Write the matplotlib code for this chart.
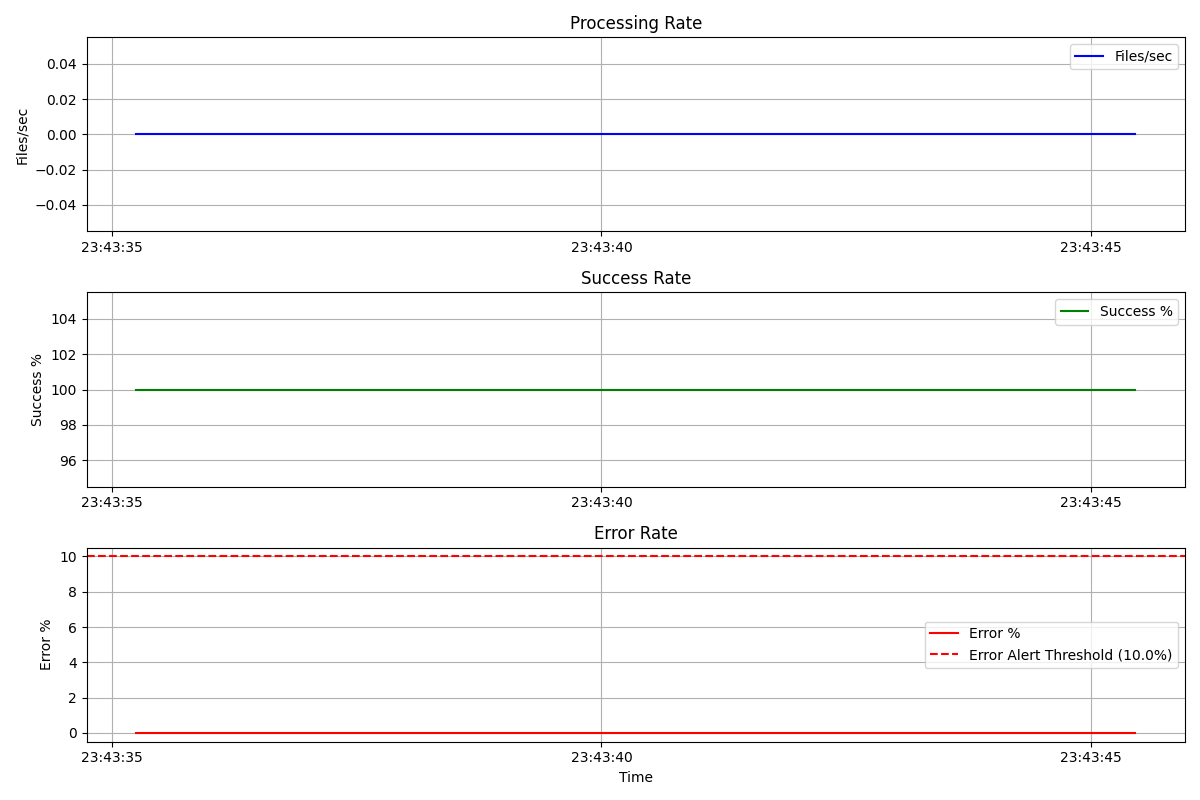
import pandas as pd
import matplotlib
matplotlib.use("Agg")
import matplotlib.pyplot as plt
import matplotlib.dates as mdates

# sample times (seconds after 23:43:35) and metric values
seconds = [0.25, 1.27, 2.29, 3.31, 4.33, 5.35, 6.37, 7.39, 8.41, 9.43, 10.45]
files_per_sec = [0.0, 0.0, 0.0, 0.0, 0.0, 0.0, 0.0, 0.0, 0.0, 0.0, 0.0]
success_pct = [100.0, 100.0, 100.0, 100.0, 100.0, 100.0, 100.0, 100.0, 100.0, 100.0, 100.0]
error_pct = [0.0, 0.0, 0.0, 0.0, 0.0, 0.0, 0.0, 0.0, 0.0, 0.0, 0.0]
error_threshold = 10.0

base = pd.Timestamp("2024-01-01 23:43:35")
times = [base + pd.Timedelta(seconds=s) for s in seconds]

fig, axes = plt.subplots(3, 1, figsize=(12, 8), dpi=100)

axes[0].plot(times, files_per_sec, color="b", label="Files/sec")
axes[0].set_title("Processing Rate")
axes[0].set_ylabel("Files/sec")

axes[1].plot(times, success_pct, color="g", label="Success %")
axes[1].set_title("Success Rate")
axes[1].set_ylabel("Success %")

axes[2].plot(times, error_pct, color="r", label="Error %")
axes[2].axhline(error_threshold, color="r", linestyle="--",
                label=f"Error Alert Threshold ({error_threshold}%)")
axes[2].set_title("Error Rate")
axes[2].set_ylabel("Error %")
axes[2].set_xlabel("Time")

for ax in axes:
    ax.xaxis.set_major_locator(mdates.SecondLocator(bysecond=range(0, 60, 5)))
    ax.xaxis.set_major_formatter(mdates.DateFormatter("%H:%M:%S"))
    ax.grid(True)
    ax.legend()

plt.tight_layout()
plt.savefig("out.png")
